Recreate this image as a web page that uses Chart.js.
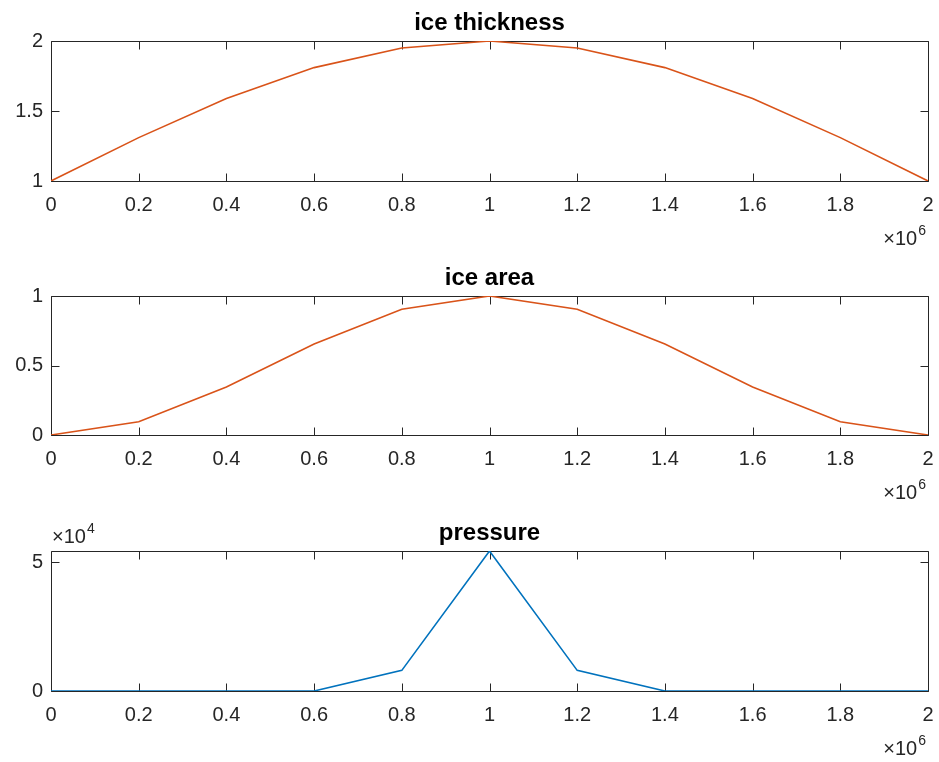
<!DOCTYPE html>
<html>
<head>
<meta charset="utf-8">
<script src="https://cdn.jsdelivr.net/npm/chart.js@4.4.1/dist/chart.umd.min.js"></script>
<style>
  html, body { margin: 0; padding: 0; background: #fff; }
  #wrap { position: relative; width: 939px; height: 762px; }
  canvas { position: absolute; left: 0; }
</style>
</head>
<body>
<div id="wrap">
  <canvas id="c1" width="939" height="254" style="top:0px"></canvas>
  <canvas id="c2" width="939" height="254" style="top:254px"></canvas>
  <canvas id="c3" width="939" height="254" style="top:508px"></canvas>
</div>
<script>
// ---- data ----
const xValues = [0, 200000, 400000, 600000, 800000, 1000000, 1200000, 1400000, 1600000, 1800000, 2000000];
const iceThickness = [1, 1.31, 1.59, 1.81, 1.95, 2, 1.95, 1.81, 1.59, 1.31, 1];
const iceArea = [0, 0.095, 0.345, 0.655, 0.905, 1, 0.905, 0.655, 0.345, 0.095, 0];
const pressure = [0, 0, 0, 0, 8000, 54300, 8000, 0, 0, 0, 0];

const xTicks = [0, 200000, 400000, 600000, 800000, 1000000, 1200000, 1400000, 1600000, 1800000, 2000000];
const thicknessTicks = [1, 1.5, 2];
const areaTicks = [0, 0.5, 1];
const pressureTicks = [0, 50000];

const titles = ['ice thickness', 'ice area', 'pressure'];

const FONT = "'Liberation Sans', Arial, Helvetica, sans-serif";
const AX = '#262626';

const axesPlugin = {
  id: 'matlabAxes',
  beforeDatasetsDraw(chart, args, opts) {
    const ctx = chart.ctx;
    const a = chart.chartArea;
    const xs = chart.scales.x, ys = chart.scales.y;
    ctx.save();
    ctx.strokeStyle = AX;
    ctx.lineWidth = 1;
    const L = Math.round(a.left) + 0.5, R = Math.round(a.right) + 0.5;
    const T = Math.round(a.top) + 0.5, B = Math.round(a.bottom) + 0.5;
    ctx.beginPath();
    ctx.rect(L, T, R - L, B - T);
    const tl = 8;
    xs.ticks.forEach(t => {
      const px = Math.round(xs.getPixelForValue(t.value)) + 0.5;
      ctx.moveTo(px, B); ctx.lineTo(px, B - tl);
      ctx.moveTo(px, T); ctx.lineTo(px, T + tl);
    });
    ys.ticks.forEach(t => {
      const py = Math.round(ys.getPixelForValue(t.value)) + 0.5;
      ctx.moveTo(L, py); ctx.lineTo(L + tl, py);
      ctx.moveTo(R, py); ctx.lineTo(R - tl, py);
    });
    ctx.stroke();
    ctx.restore();
  },
  afterDraw(chart, args, opts) {
    const ctx = chart.ctx;
    const a = chart.chartArea;
    ctx.save();
    // title
    ctx.fillStyle = '#000';
    ctx.font = "bold 24px " + FONT;
    ctx.textAlign = 'center';
    ctx.textBaseline = 'alphabetic';
    ctx.fillText(opts.title, (a.left + a.right) / 2, a.top - 11);
    // exponent labels
    ctx.fillStyle = AX;
    const drawExp = (xRight, xLeft, baseline, exp) => {
      ctx.font = "14px " + FONT;
      const ew = ctx.measureText(exp).width;
      ctx.font = "20px " + FONT;
      const bw = ctx.measureText('\u00d710').width;
      let x0 = xRight != null ? xRight - ew - bw - 1 : xLeft;
      ctx.textAlign = 'left';
      ctx.fillText('\u00d710', x0, baseline);
      ctx.font = "14px " + FONT;
      ctx.fillText(exp, x0 + bw + 1, baseline - 10);
    };
    drawExp(a.right - 2, null, a.bottom + 64, '6');
    if (opts.yExp) {
      drawExp(null, a.left + 1, a.top - 8, opts.yExp);
    }
    ctx.restore();
  }
};

function makeChart(id, values, yMin, yMax, yTicks, color, title, padTop, plotH, yExp, yDiv) {
  const pts = xValues.map((x, i) => ({ x: x, y: values[i] }));
  return new Chart(document.getElementById(id), {
    type: 'line',
    data: {
      datasets: [{
        data: pts,
        borderColor: color,
        borderWidth: 1.6,
        pointRadius: 0,
        tension: 0,
        fill: false
      }]
    },
    options: {
      responsive: false,
      animation: false,
      events: [],
      layout: { padding: { top: padTop, right: 0, left: 0, bottom: 0 } },
      plugins: {
        legend: { display: false },
        tooltip: { enabled: false },
        title: { display: false },
        matlabAxes: { title: title, yExp: yExp }
      },
      scales: {
        x: {
          type: 'linear',
          min: 0,
          max: 2000000,
          afterBuildTicks: s => { s.ticks = xTicks.map(v => ({ value: v })); },
          afterFit: s => { s.height = 254 - padTop - plotH; s.paddingRight = 11; s.paddingLeft = 0; },
          grid: { display: false, drawTicks: false },
          border: { display: false },
          ticks: {
            color: AX,
            font: { family: FONT, size: 20 },
            padding: 12,
            maxRotation: 0,
            autoSkip: false,
            callback: v => String(Math.round(v / 100000) / 10)
          }
        },
        y: {
          type: 'linear',
          min: yMin,
          max: yMax,
          afterBuildTicks: s => { s.ticks = yTicks.map(v => ({ value: v })); },
          afterFit: s => { s.width = 51; s.paddingTop = 0; s.paddingBottom = 0; },
          grid: { display: false, drawTicks: false },
          border: { display: false },
          ticks: {
            color: AX,
            font: { family: FONT, size: 20 },
            padding: 8,
            autoSkip: false,
            callback: v => String(Math.round(v / yDiv * 100) / 100)
          }
        }
      }
    },
    plugins: [axesPlugin]
  });
}

makeChart('c1', iceThickness, 1, 2, thicknessTicks, '#D95319', titles[0], 41, 140, null, 1);
makeChart('c2', iceArea, 0, 1, areaTicks, '#D95319', titles[1], 42, 139, null, 1);
makeChart('c3', pressure, 0, 54300, pressureTicks, '#0072BD', titles[2], 43, 140, '4', 10000);
</script>
</body>
</html>
